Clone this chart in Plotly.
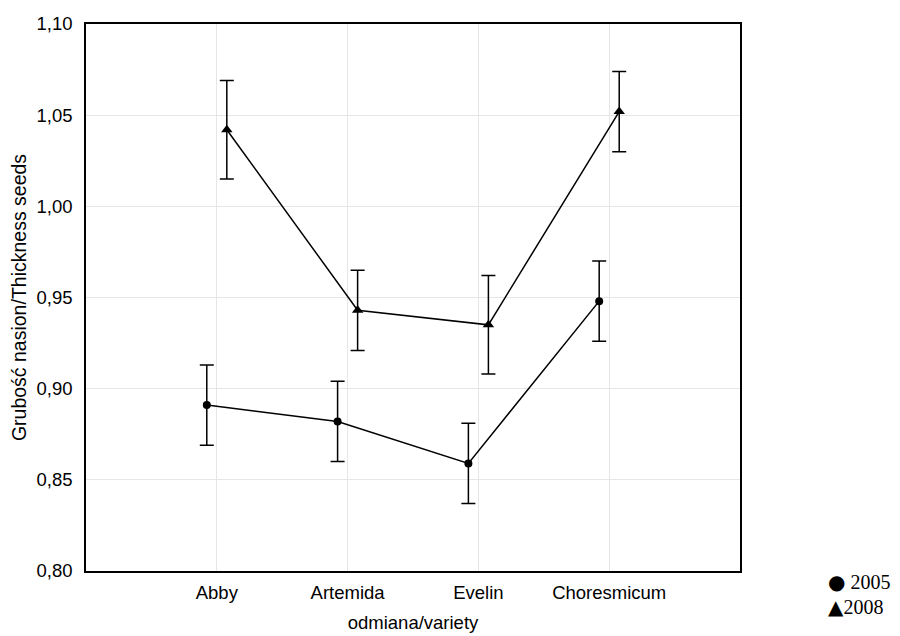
import numpy as np
import plotly.graph_objects as go

categories = ["Abby", "Artemida", "Evelin", "Choresmicum"]
years = ["2005", "2008"]
mean_2005 = [0.891, 0.882, 0.859, 0.948]
err_2005 = [0.022, 0.022, 0.022, 0.022]
mean_2008 = [1.042, 0.943, 0.935, 1.052]
err_2008 = [0.027, 0.022, 0.027, 0.022]
y_ticks = [0.80, 0.85, 0.90, 0.95, 1.00, 1.05, 1.10]
y_ticktext = ["0,80", "0,85", "0,90", "0,95", "1,00", "1,05", "1,10"]

idx = np.arange(len(categories))
offset = 0.0765

fig = go.Figure()
for name, means, errs, sym, size, dx in [
    (years[0], mean_2005, err_2005, "circle", 8, -offset),
    (years[1], mean_2008, err_2008, "triangle-up", 10, offset),
]:
    fig.add_trace(go.Scatter(
        x=idx + dx, y=means, name=name, mode="lines+markers",
        line=dict(color="black", width=1.5),
        marker=dict(symbol=sym, size=size, color="black"),
        error_y=dict(type="data", array=errs, visible=True,
                     color="black", thickness=1.5, width=7),
        showlegend=False,
    ))

legend_font = dict(family="Liberation Serif, Times New Roman, serif", size=20, color="black")
glyph = '<span style="font-family:DejaVu Sans">%s</span>'
fig.add_annotation(
    xref="paper", yref="paper", x=1.132, y=-0.020, xanchor="left", yanchor="middle",
    text=glyph % "●" + " " + years[0], showarrow=False, font=legend_font,
)
fig.add_annotation(
    xref="paper", yref="paper", x=1.132, y=-0.066, xanchor="left", yanchor="middle",
    text=glyph % "▲" + years[1], showarrow=False, font=legend_font,
)

axis_common = dict(
    showline=True, linecolor="black", linewidth=1.5, mirror=True,
    showgrid=True, gridcolor="#e6e6e6", gridwidth=1, zeroline=False,
    ticks="", tickfont=dict(size=18.5, color="black"), automargin=False,
)
fig.update_xaxes(
    range=[-1, 4], tickmode="array", tickvals=idx, ticktext=categories,
    ticklabelstandoff=4,
    title=dict(text="odmiana/variety", standoff=14, font=dict(size=18.5, color="black")),
    **axis_common,
)
fig.update_yaxes(
    range=[0.80, 1.10], tickmode="array", tickvals=y_ticks, ticktext=y_ticktext,
    ticklabelstandoff=8,
    title=dict(text="Grubość nasion/Thickness seeds", standoff=10, font=dict(size=19.5, color="black")),
    **axis_common,
)
fig.update_layout(
    width=900, height=636,
    margin=dict(l=78, r=168, t=16, b=73),
    plot_bgcolor="white", paper_bgcolor="white",
    font=dict(family="Liberation Sans, Arial, sans-serif", color="black"),
)
fig.write_html("out.html")
